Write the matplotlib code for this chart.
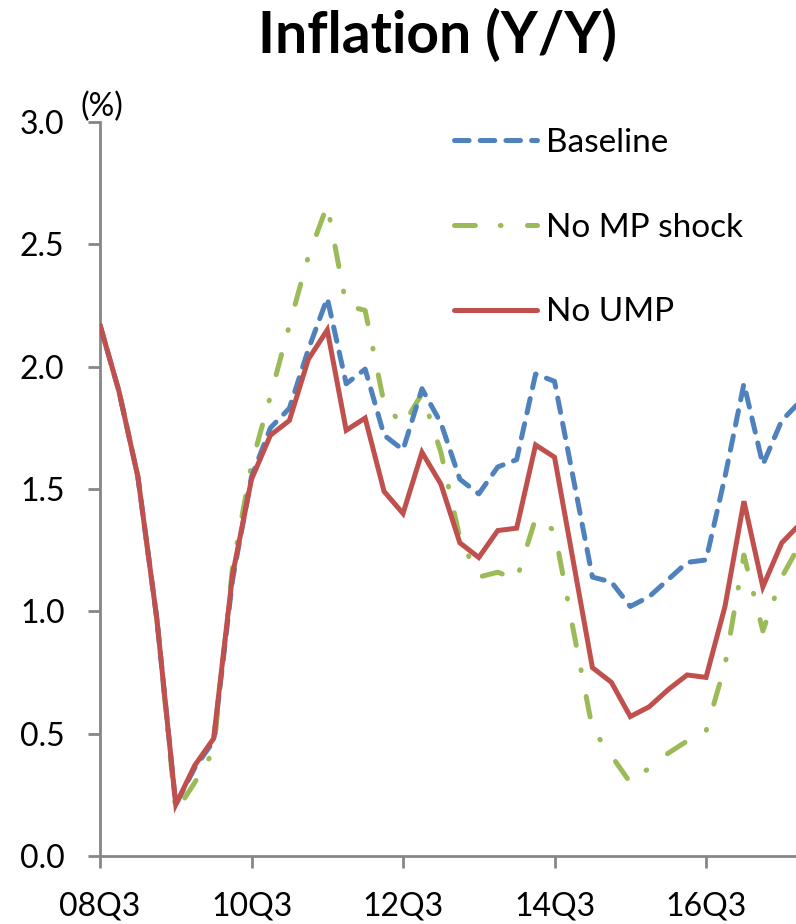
import matplotlib
matplotlib.use("Agg")
import matplotlib.pyplot as plt

plt.rcParams['font.family'] = ['Lato', 'DejaVu Sans']
plt.rcParams['lines.scale_dashes'] = False

# Quarterly categories, 08Q3 through 17Q4
quarters = []
for yr in range(8, 18):
    for q in range(1, 5):
        if (yr == 8 and q < 3):
            continue
        quarters.append(f"{yr:02d}Q{q}")

tick_labels = ["08Q3", "10Q3", "12Q3", "14Q3", "16Q3"]

baseline = [2.17, 1.90, 1.55, 0.97, 0.21, 0.36, 0.47, 1.13, 1.55,
            1.75, 1.83, 2.07, 2.28, 1.93, 1.99, 1.72, 1.66, 1.91,
            1.77, 1.54, 1.48, 1.59, 1.62, 1.97, 1.94, 1.54, 1.14,
            1.12, 1.02, 1.06, 1.13, 1.20, 1.21, 1.55, 1.93, 1.60,
            1.78, 1.86]

no_mp_shock = [2.17, 1.90, 1.55, 0.97, 0.18, 0.30, 0.43, 1.18, 1.60,
               1.88, 2.17, 2.45, 2.66, 2.25, 2.23, 1.85, 1.76, 1.89,
               1.65, 1.30, 1.14, 1.16, 1.13, 1.38, 1.33, 0.92, 0.52,
               0.41, 0.30, 0.36, 0.42, 0.47, 0.51, 0.78, 1.23, 0.92,
               1.14, 1.28]

no_ump = [2.17, 1.90, 1.55, 0.97, 0.21, 0.37, 0.48, 1.15, 1.54,
          1.72, 1.78, 2.03, 2.15, 1.74, 1.79, 1.49, 1.40, 1.65,
          1.52, 1.28, 1.22, 1.33, 1.34, 1.68, 1.63, 1.20, 0.77,
          0.71, 0.57, 0.61, 0.68, 0.74, 0.73, 1.02, 1.45, 1.10,
          1.28, 1.36]

x = list(range(len(quarters)))

fig = plt.figure(figsize=(7.96, 9.24), dpi=100)
ax = fig.add_axes([100 / 796, 68 / 924, 696 / 796, 734 / 924])

lw = 3.6
ax.plot(x, baseline, color="#4F81BD", lw=lw, dashes=(10.5, 8.0),
        dash_capstyle="round", solid_capstyle="round", label="Baseline", zorder=3)
ax.plot(x, no_mp_shock, color="#9BBB59", lw=lw, dashes=(15.0, 18.0, 0.5, 19.0),
        dash_capstyle="round", label="No MP shock", zorder=2)
ax.plot(x, no_ump, color="#C0504D", lw=lw, solid_capstyle="round",
        solid_joinstyle="miter", label="No UMP", zorder=4)

ax.set_xlim(0, 36.75)
ax.set_ylim(0, 3.0)
yticks = [0.0, 0.5, 1.0, 1.5, 2.0, 2.5, 3.0]
ax.set_yticks(yticks)
ax.set_yticklabels([f"{v:.1f}" for v in yticks])
ax.set_xticks([quarters.index(t) for t in tick_labels])
ax.set_xticklabels(tick_labels)

for side in ("top", "right"):
    ax.spines[side].set_visible(False)
for side in ("left", "bottom"):
    ax.spines[side].set_color("#868686")
    ax.spines[side].set_linewidth(2.0)
ax.spines["bottom"].set_zorder(5)

ax.tick_params(axis="both", direction="out", length=8.5, width=2.0,
               color="#868686", labelsize=23, labelcolor="black", pad=17)

ax.text(-1.05, 3.0, "(%)", fontsize=23, ha="left", va="bottom",
        transform=ax.transData, clip_on=False)

leg = ax.legend(loc="upper left", frameon=False, fontsize=24,
                handlelength=2.5, handletextpad=0.25, labelspacing=1.64,
                borderaxespad=0, borderpad=0)
leg.set_bbox_to_anchor((454 / 796, 1 - 128 / 924), transform=fig.transFigure)

fig.text(437 / 796, 1 - 36 / 924, "Inflation (Y/Y)", fontsize=41,
         fontweight="bold", ha="center", va="center")

fig.savefig("out.png", dpi=100)
